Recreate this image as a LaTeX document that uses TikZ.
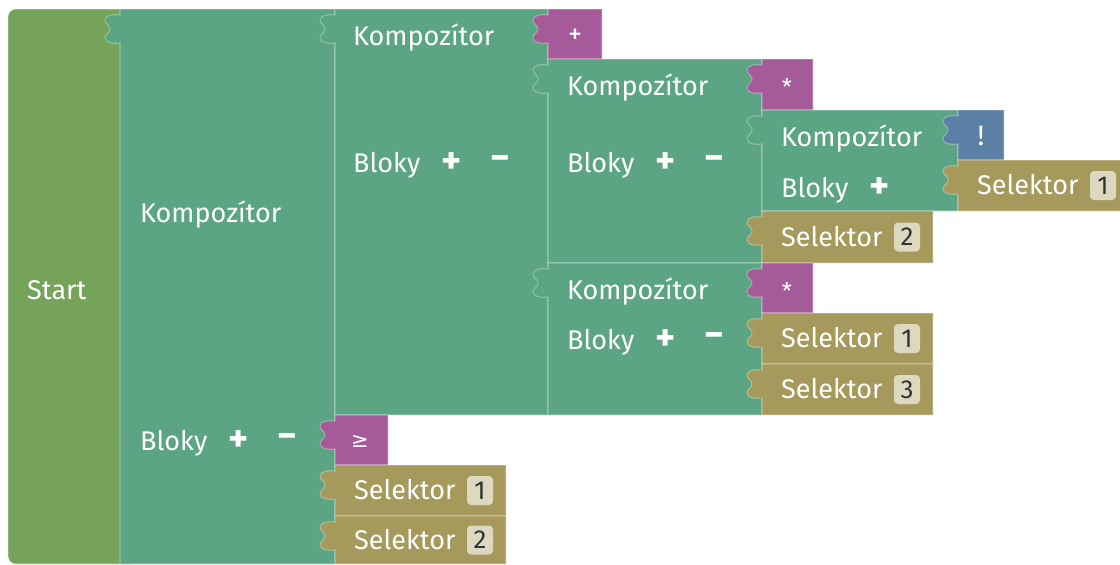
\documentclass[tikz,border=0pt]{standalone}
\usepackage{fontspec}
\setmainfont{Fira Sans}
\newfontfamily\symfont{DejaVu Sans}

\definecolor{startgreen}{HTML}{76A35A}
\definecolor{comp}{HTML}{5BA584}
\definecolor{oper}{HTML}{A55B99}
\definecolor{negb}{HTML}{5B80A5}
\definecolor{sel}{HTML}{A5995B}
\definecolor{badge}{HTML}{DDD9C1}

\tikzset{
  blockline/.style={draw=white, draw opacity=0.3, line width=1.1pt},
  lbl/.style={anchor=base west, text=white, inner sep=0pt,
               font=\fontsize{27}{30}\selectfont},
  sym/.style={text=white, inner sep=0pt,
              font=\fontsize{28}{32}\selectfont},
  star/.style={sym, font=\fontsize{23}{26}\selectfont},
  ctl/.style={text=white, inner sep=0pt,
              font=\fontsize{38}{40}\selectfont\bfseries},
  num/.style={fill=badge, rounded corners=4pt, text=black!80, inner sep=0pt,
              minimum width=26pt, minimum height=29pt,
              font=\fontsize{26}{28}\selectfont},
}

% block with a puzzle tab on its left edge: colour, left, top, right, bottom
\newcommand\blockwithtab[5]{%
  \draw[blockline, fill=#1] (#2,#3) -- (#2,#3+6)
    .. controls (#2-6,#3+5) and (#2-15,#3+6) .. (#2-15,#3+11)
    .. controls (#2-15,#3+15) and (#2-10,#3+16) .. (#2-10,#3+20)
    .. controls (#2-10,#3+24) and (#2-15,#3+25) .. (#2-15,#3+29)
    .. controls (#2-15,#3+34) and (#2-6,#3+35) .. (#2,#3+34)
    -- (#2,#5) -- (#4,#5) -- (#4,#3) -- cycle;}

% selector block: name, left, top, bottom, number
\newcommand\selektor[5]{%
  \blockwithtab{sel}{#2}{#3}{#2+171}{#4}
  \node[lbl] (#1) at (#2+19,{(#3+#4)/2+9}) {Selektor};
  \node[num] (#1n) at (#2+145,{(#3+#4)/2}) {#5};}

% "Bloky" row with its plus control: name, text x, row centre y
\newcommand\blokyrow[3]{%
  \node[lbl] (#1) at (#2,#3+9) {Bloky};
  \node[ctl] (#1p) at (#2+99,#3) {+};}
% minus control of a "Bloky" row: name, text x, row centre y
\newcommand\minusctl[3]{\node[ctl] (#1) at (#2+147,#3) {−};}

\begin{document}
\begin{tikzpicture}[x=1pt,y=-1pt]
\useasboundingbox (0,0) rectangle (1120,565);

% start block
\draw[blockline, fill=startgreen, rounded corners=8pt] (8,9) rectangle (140,564);
\node[lbl] (start) at (27,299) {Start};

% outer composer
\blockwithtab{comp}{120}{9}{335}{564}
\node[lbl] (k0) at (140,222) {Kompozítor};
\blokyrow{b0}{140}{441}
\minusctl{b0m}{140}{441}

% composer joined by "+"
\blockwithtab{comp}{335}{9}{548}{415}
\node[lbl] (k1) at (353,45) {Kompozítor};
\blokyrow{b1}{353}{163}
\minusctl{b1m}{353}{163}
\blockwithtab{oper}{548}{9}{602}{59}
\node[sym] (op1) at (575,36) {+};

% first product composer
\blockwithtab{comp}{548}{59}{762}{263}
\node[lbl] (k2) at (567,95) {Kompozítor};
\blokyrow{b2}{567}{163}
\minusctl{b2m}{567}{163}
\blockwithtab{oper}{762}{59}{813}{110}
\node[star] (op2) at (787,87) {*};

% negation composer
\blockwithtab{comp}{762}{110}{958}{211}
\node[lbl] (k3) at (781,146) {Kompozítor};
\blokyrow{b3}{781}{188}
\blockwithtab{negb}{958}{110}{1004}{160}
\node[sym] (op3) at (981,136) {!};
\selektor{s1}{958}{160}{211}{1}
\selektor{s2}{762}{211}{263}{2}

% second product composer
\blockwithtab{comp}{548}{263}{762}{415}
\node[lbl] (k4) at (567,299) {Kompozítor};
\blokyrow{b4}{567}{340}
\minusctl{b4m}{567}{340}
\blockwithtab{oper}{762}{263}{813}{313}
\node[star] (op4) at (787,291) {*};
\selektor{s3}{762}{313}{364}{1}
\selektor{s4}{762}{364}{415}{3}

% comparison
\blockwithtab{oper}{335}{415}{388}{465}
\node[sym, font=\symfont\fontsize{21}{24}\selectfont] (op5) at (360,441) {≥};
\selektor{s5}{335}{465}{516}{1}
\selektor{s6}{335}{516}{564}{2}
\end{tikzpicture}
\end{document}
